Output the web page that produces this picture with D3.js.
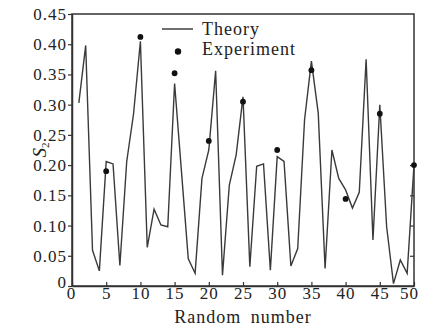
<!DOCTYPE html>
<html>
<head>
<meta charset="utf-8">
<script src="https://cdn.jsdelivr.net/npm/d3@7"></script>
<style>
  body { margin: 0; background: #fff; }
  text { font-family: "Liberation Serif", "Times New Roman", serif; fill: #222; }
</style>
</head>
<body>
<div class="chart"></div>
<script>
var svgWidth = 421;
var svgHeight = 332;

var margin = { top: 14, right: 7, bottom: 46, left: 72 };
var width = svgWidth - margin.left - margin.right;
var height = svgHeight - margin.top - margin.bottom;

// theory curve, random number 1..50
var theoryX = d3.range(1, 51);
var theoryY = [
  0.303, 0.398, 0.059, 0.025, 0.206, 0.202, 0.034, 0.206, 0.285, 0.405,
  0.064, 0.127, 0.101, 0.098, 0.335, 0.190, 0.045, 0.021, 0.178, 0.225,
  0.356, 0.018, 0.167, 0.217, 0.313, 0.032, 0.198, 0.202, 0.026, 0.214,
  0.206, 0.033, 0.062, 0.275, 0.372, 0.286, 0.029, 0.225, 0.178, 0.159,
  0.129, 0.155, 0.375, 0.076, 0.300, 0.098, 0.004, 0.043, 0.021, 0.200
];

// experiment points
var expX = [5, 10, 15, 20, 25, 30, 35, 40, 45, 50];
var expY = [0.190, 0.412, 0.352, 0.240, 0.305, 0.225, 0.357, 0.144, 0.285, 0.200];

var xTicks = [0, 5, 10, 15, 20, 25, 30, 35, 40, 45, 50];
var yTicks = [0, 0.05, 0.10, 0.15, 0.20, 0.25, 0.30, 0.35, 0.40, 0.45];
var rightTicks = [0.05, 0.10, 0.15, 0.20];

var theory = theoryX.map((x, i) => ({ x: x, y: theoryY[i] }));
var experiment = expX.map((x, i) => ({ x: x, y: expY[i] }));

var svg = d3.select(".chart")
  .append("svg")
  .attr("width", svgWidth)
  .attr("height", svgHeight);

var chartGroup = svg.append("g")
  .attr("transform", `translate(${margin.left}, ${margin.top})`);

var xScale = d3.scaleLinear().domain([0, 50]).range([0, width]);
var yScale = d3.scaleLinear().domain([0, 0.45]).range([height, 0]);

var fmtY = d => d === 0 ? "0" : d3.format(".2f")(d);

// bottom axis, ticks pointing in
var bottomAxis = d3.axisBottom(xScale)
  .tickValues(xTicks)
  .tickSizeInner(-4)
  .tickSizeOuter(0)
  .tickPadding(1);

var leftAxis = d3.axisLeft(yScale)
  .tickValues(yTicks)
  .tickFormat(fmtY)
  .tickSizeInner(4)
  .tickSizeOuter(0)
  .tickPadding(1);

var gx = chartGroup.append("g")
  .attr("transform", `translate(0, ${height})`)
  .call(bottomAxis);

var gy = chartGroup.append("g")
  .call(leftAxis);

// right side ticks, pointing in
chartGroup.append("g")
  .attr("transform", `translate(${width}, 0)`)
  .call(d3.axisRight(yScale).tickValues(rightTicks).tickSizeInner(-4).tickSizeOuter(0).tickFormat(""))
  .select(".domain").remove();

// frame
chartGroup.append("rect")
  .attr("width", width)
  .attr("height", height)
  .attr("fill", "none")
  .attr("stroke", "#333")
  .attr("stroke-width", 1.5);

[gx, gy].forEach(g => {
  g.select(".domain").attr("stroke", "#333").attr("stroke-width", 1.5);
  g.selectAll(".tick text")
    .style("font-family", "Liberation Serif, serif")
    .style("font-size", "17px")
    .style("letter-spacing", "1px")
    .attr("fill", "#222");
});
chartGroup.selectAll(".tick line").attr("stroke", "#333").attr("stroke-width", 1.2);

// end labels nudged inward like the original
gy.selectAll(".tick text").filter(d => d === 0).attr("dy", "0.1em");
gx.selectAll(".tick text").filter(d => d === 0).attr("dx", "-1");
gx.selectAll(".tick text").filter(d => d === 50).attr("dx", "-5");

// theory line
var line = d3.line()
  .x(d => xScale(d.x))
  .y(d => yScale(d.y));

chartGroup.append("path")
  .datum(theory)
  .attr("d", line)
  .attr("fill", "none")
  .attr("stroke", "#3a3a3a")
  .attr("stroke-width", 1.4)
  .attr("stroke-linejoin", "miter");

// experiment dots
chartGroup.selectAll("circle.exp")
  .data(experiment)
  .enter()
  .append("circle")
  .attr("class", "exp")
  .attr("cx", d => xScale(d.x))
  .attr("cy", d => yScale(d.y))
  .attr("r", 2.9)
  .attr("fill", "#111");

// legend
var legend = svg.append("g");
legend.append("line")
  .attr("x1", 162).attr("x2", 193)
  .attr("y1", 29).attr("y2", 29)
  .attr("stroke", "#333")
  .attr("stroke-width", 1.4);
legend.append("circle")
  .attr("cx", 178).attr("cy", 51.5)
  .attr("r", 3.2)
  .attr("fill", "#111");
legend.append("text")
  .attr("x", 202).attr("y", 35)
  .style("font-size", "18px")
  .style("letter-spacing", "1px")
  .text("Theory");
legend.append("text")
  .attr("x", 202).attr("y", 55)
  .style("font-size", "18px")
  .style("letter-spacing", "1px")
  .text("Experiment");

// axes labels
chartGroup.append("text")
  .attr("x", width / 2)
  .attr("y", height + 37)
  .attr("text-anchor", "middle")
  .style("font-size", "18px")
  .style("letter-spacing", "1px")
  .style("word-spacing", "4px")
  .text("Random number");

var ylab = svg.append("text")
  .attr("transform", `translate(46, ${margin.top + height / 2}) rotate(-90)`)
  .attr("text-anchor", "middle")
  .style("font-size", "19px");
ylab.append("tspan").style("font-style", "italic").text("S");
ylab.append("tspan").attr("dy", "0.3em").style("font-size", "11px").text("2");
</script>
</body>
</html>
